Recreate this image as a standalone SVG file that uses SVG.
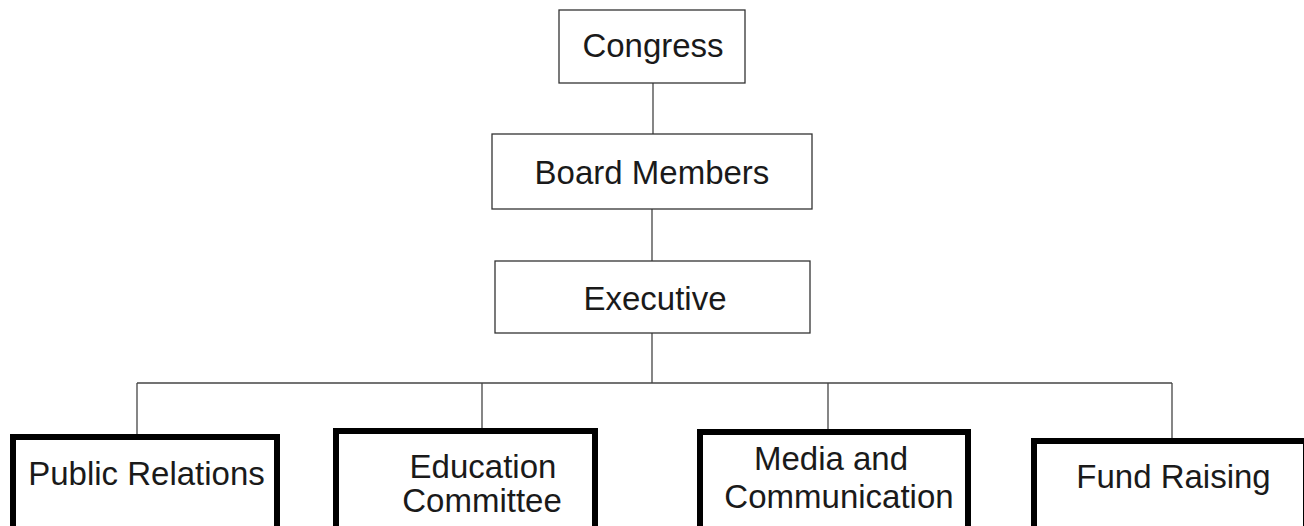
<svg xmlns="http://www.w3.org/2000/svg" width="1304" height="526" viewBox="0 0 1304 526">
<style>
  .thin { fill: #fff; stroke: #333; stroke-width: 1.3; }
  .thick { fill: #fff; stroke: #000; stroke-width: 6; }
  .lbl { font-family: "Liberation Sans", Arial, sans-serif; font-size: 33px; fill: #1a1a1a; text-anchor: middle; }
  .conn { stroke: #444; stroke-width: 1.3; fill: none; }
</style>
<rect x="0" y="0" width="1304" height="526" fill="#fff"/>
<g id="connectors">
  <line class="conn" x1="653" y1="83" x2="653" y2="134"/>
  <line class="conn" x1="652" y1="209" x2="652" y2="261"/>
  <line class="conn" x1="652" y1="333" x2="652" y2="383"/>
  <line class="conn" x1="137" y1="383" x2="1172" y2="383"/>
  <line class="conn" x1="137" y1="383" x2="137" y2="434"/>
  <line class="conn" x1="482" y1="383" x2="482" y2="428"/>
  <line class="conn" x1="828" y1="383" x2="828" y2="429"/>
  <line class="conn" x1="1172" y1="383" x2="1172" y2="438"/>
</g>
<g id="congress">
  <rect class="thin" x="559" y="10" width="186" height="73"/>
  <text class="lbl" x="653" y="57">Congress</text>
</g>
<g id="board">
  <rect class="thin" x="492" y="134" width="320" height="75"/>
  <text class="lbl" x="652" y="184">Board Members</text>
</g>
<g id="executive">
  <rect class="thin" x="495" y="261" width="315" height="72"/>
  <text class="lbl" x="655" y="310">Executive</text>
</g>
<g id="public-relations">
  <rect class="thick" x="13" y="437" width="264" height="100"/>
  <text class="lbl" x="146.5" y="485">Public Relations</text>
</g>
<g id="education">
  <rect class="thick" x="336" y="431" width="259" height="110"/>
  <text class="lbl" x="483" y="478">Education</text>
  <text class="lbl" x="482" y="512">Committee</text>
</g>
<g id="media">
  <rect class="thick" x="700" y="432" width="268" height="110"/>
  <text class="lbl" x="831" y="470">Media and</text>
  <text class="lbl" x="839" y="508">Communication</text>
</g>
<g id="fund-raising">
  <rect class="thick" x="1034" y="441" width="272" height="100"/>
  <text class="lbl" x="1173.5" y="488">Fund Raising</text>
</g>
</svg>
